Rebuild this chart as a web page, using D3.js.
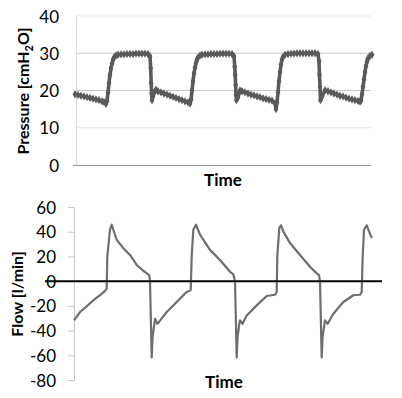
<!DOCTYPE html>
<html>
<head>
<meta charset="utf-8">
<script src="https://cdn.jsdelivr.net/npm/d3@7"></script>
<style>
  body { margin: 0; background: #fff; }
  text { font-family: Lato, "Open Sans", sans-serif; fill: #000; }
  .tick text { font-size: 17px; }
  .axisTitle { font-size: 16px; font-weight: bold; }
</style>
</head>
<body>
<div id="chart"></div>
<script>
// sample number vs airway pressure [cmH2O]
var pressure = [
  [0, 19.0], [3, 18.8], [6, 18.6], [9, 18.4], [12, 18.2], [15, 18.0], [18, 17.8], [21, 17.6],
  [24, 17.4], [27, 17.1], [29, 16.9], [31, 16.4], [32, 17.2], [33, 19.5], [34, 22.0], [35, 24.2],
  [36, 26.0], [37, 27.2], [38, 28.2], [39, 28.9], [41, 29.4], [43, 29.6], [46, 29.7], [49, 29.7],
  [52, 29.8], [55, 29.8], [58, 29.8], [61, 29.9], [64, 29.9], [67, 29.9], [70, 29.9], [73, 29.8],
  [75, 29.2], [75.7, 26.0], [76.2, 22.0], [76.6, 19.2], [77, 17.4], [78, 18.5], [79.5, 19.6],
  [81, 20.2], [83, 19.8], [86, 19.5], [89, 19.2], [92, 18.9], [95, 18.6], [98, 18.3], [101, 18.0],
  [104, 17.7], [107, 17.4], [110, 17.1], [113, 16.8], [115, 16.5], [116, 17.5], [117, 20.0],
  [118, 22.5], [119, 24.6], [120, 26.2], [121, 27.4], [122, 28.3], [123, 28.9], [125, 29.4],
  [127, 29.6], [130, 29.7], [133, 29.7], [136, 29.8], [139, 29.8], [142, 29.8], [145, 29.9],
  [148, 29.9], [151, 29.9], [154, 29.9], [157, 29.8], [159, 29.2], [159.7, 26.4], [160.2, 24.2],
  [160.6, 21.5], [161, 18.8], [161.5, 17.4], [163, 18.2], [165, 20.0], [167, 19.8], [170, 19.5],
  [173, 19.2], [176, 18.9], [179, 18.7], [182, 18.4], [185, 18.2], [188, 17.9], [191, 17.7],
  [194, 17.5], [197, 17.3], [200, 16.5], [201, 15.0], [202, 16.8], [203, 19.5], [204, 22.5],
  [205, 25.0], [206, 27.0], [207, 28.3], [208, 29.0], [210, 29.6], [213, 29.8], [216, 29.9],
  [219, 29.9], [222, 30.0], [225, 30.0], [228, 30.0], [231, 30.0], [234, 30.0], [237, 30.0],
  [240, 30.0], [243, 29.8], [244, 27.9], [244.5, 24.2], [245, 21.1], [245.5, 17.4], [247, 18.3],
  [250, 20.1], [253, 19.8], [256, 19.5], [259, 19.2], [262, 18.9], [265, 18.6], [268, 18.4],
  [271, 18.1], [274, 17.8], [277, 17.6], [280, 17.4], [283, 17.2], [285, 17.0], [286, 17.3],
  [287, 19.0], [288, 21.0], [289, 23.0], [290, 25.0], [291, 26.6], [292, 27.8], [293, 28.6],
  [295, 29.3], [297, 29.6]
];

// sample number vs flow [l/min]
var flow = [
  [-1, -31.8], [5, -25.0], [11.7, -20.4], [18.3, -15.5], [25, -11.4], [30, -7.9], [31.7, -6.0],
  [32.3, 20.0], [35, 41.6], [36.7, 45.7], [38.3, 41.6], [41.7, 33.5], [48.3, 26.7], [55, 21.2],
  [61.7, 13.1], [68.3, 8.4], [74.3, 4.9], [75, 0.0], [76.7, -61.8], [77.6, -45.0], [80, -30.5],
  [82.3, -34.5], [85, -32.0], [91.7, -25.0], [101.7, -16.9], [111.7, -8.7], [115.7, -7.3],
  [116.7, 20.0], [118.3, 41.6], [121, 45.7], [125, 37.6], [135, 25.3], [145, 17.1], [155, 7.6],
  [158.3, 5.4], [160, 0.0], [161.7, -61.8], [162.6, -45.0], [164.3, -34.5], [165, -31.8],
  [167.5, -34.5], [171.7, -27.8], [181.7, -19.6], [191.7, -12.0], [200, -11.0], [201.7, -8.7],
  [202.3, 20.0], [204.3, 43.0], [206, 45.2], [208.3, 40.3], [215, 30.8], [225, 21.2], [235, 11.7],
  [241.7, 6.3], [244, 4.9], [245, 0.0], [246.7, -61.8], [247.6, -45.0], [250, -31.8],
  [252.7, -34.5], [258.3, -26.4], [268.3, -16.9], [278.3, -11.4], [285, -11.0], [286.7, -8.7],
  [287.7, 20.0], [289, 41.6], [291.7, 45.2], [296.7, 34.8]
];

var pressureTicks = [0, 10, 20, 30, 40];
var flowTicks = [-80, -60, -40, -20, 0, 20, 40, 60];

var width = 402, height = 398;

// plain hyphen for negatives, like the original spreadsheet chart
var fmt = d => String(d);

var svg = d3.select("#chart")
  .append("svg")
  .attr("width", width)
  .attr("height", height);

var xScale = d3.scaleLinear()
  .domain([0, 297])
  .range([75, 372]);

// ---------- top chart: pressure ----------
var yP = d3.scaleLinear()
  .domain([0, 40])
  .range([165, 16]);

// gridlines
svg.append("g")
  .selectAll("line")
  .data(pressureTicks.filter(d => d > 0))
  .enter()
  .append("line")
  .attr("x1", 76)
  .attr("x2", 371)
  .attr("y1", d => yP(d))
  .attr("y2", d => yP(d))
  .attr("stroke", d => (d == 20 || d == 30) ? "#c8c8c8" : "#e4e4e4")
  .attr("stroke-width", 1);

// y axis (labels only, light axis line)
var leftP = d3.axisLeft(yP).tickValues(pressureTicks).tickFormat(fmt).tickSize(0).tickPadding(17);
var gP = svg.append("g")
  .attr("transform", "translate(76,0)")
  .call(leftP);
gP.select(".domain").attr("stroke", "#d9d9d9");
gP.selectAll(".tick text").attr("dy", "0.36em");

// x axis line
svg.append("line")
  .attr("x1", 73)
  .attr("x2", 371)
  .attr("y1", yP(0) + 0.5)
  .attr("y2", yP(0) + 0.5)
  .attr("stroke", "#9a9a9a");

var pLine = d3.line()
  .x(d => xScale(d[0]))
  .y(d => yP(d[1]));

svg.append("path")
  .datum(pressure)
  .attr("d", pLine)
  .attr("fill", "none")
  .attr("stroke", "#5a5a5a")
  .attr("stroke-width", 3.6)
  .attr("stroke-linejoin", "round");

svg.append("g")
  .selectAll("path")
  .data(pressure)
  .enter()
  .append("path")
  .attr("d", d3.symbol(d3.symbolDiamond, 20))
  .attr("transform", d => `translate(${xScale(d[0])},${yP(d[1])})`)
  .attr("fill", "#5a5a5a");

svg.append("text")
  .attr("class", "axisTitle")
  .attr("text-anchor", "middle")
  .attr("x", 223)
  .attr("y", 186)
  .style("font-size", "17px")
  .text("Time");

var pTitle = svg.append("text")
  .attr("class", "axisTitle")
  .attr("text-anchor", "middle")
  .attr("transform", "translate(29,91) rotate(-90)");
pTitle.append("tspan").text("Pressure [cmH");
pTitle.append("tspan").attr("dy", 4).style("font-size", "11px").text("2");
pTitle.append("tspan").attr("dy", -4).text("O]");

// ---------- bottom chart: flow ----------
var yF = d3.scaleLinear()
  .domain([-80, 60])
  .range([380, 207]);

var leftF = d3.axisLeft(yF).tickValues(flowTicks).tickFormat(fmt).tickSize(6).tickSizeOuter(0).tickPadding(12);
var gF = svg.append("g")
  .attr("transform", "translate(74,0)")
  .call(leftF);
gF.select(".domain").attr("stroke", "#c8c8c8");
gF.selectAll(".tick line").attr("stroke", "#c8c8c8");
gF.selectAll(".tick text").attr("dy", "0.36em");

var fLine = d3.line()
  .x(d => xScale(d[0]))
  .y(d => yF(d[1]));

svg.append("path")
  .datum(flow)
  .attr("d", fLine)
  .attr("fill", "none")
  .attr("stroke", "#6e6e6e")
  .attr("stroke-width", 2.2)
  .attr("stroke-linejoin", "round");

// zero line
svg.append("line")
  .attr("x1", 45)
  .attr("x2", 382)
  .attr("y1", yF(0))
  .attr("y2", yF(0))
  .attr("stroke", "#000")
  .attr("stroke-width", 2);

svg.append("text")
  .attr("class", "axisTitle")
  .attr("text-anchor", "middle")
  .attr("x", 224)
  .attr("y", 388)
  .style("font-size", "17px")
  .text("Time");

svg.append("text")
  .attr("class", "axisTitle")
  .attr("text-anchor", "middle")
  .attr("transform", "translate(23,294) rotate(-90)")
  .text("Flow [l/min]");
</script>
</body>
</html>
